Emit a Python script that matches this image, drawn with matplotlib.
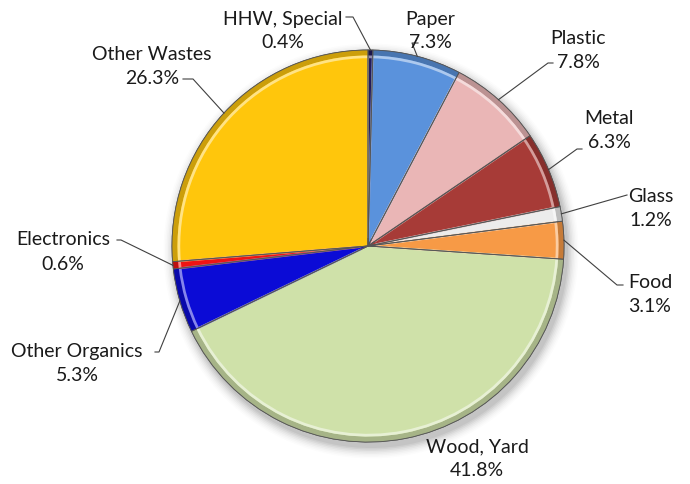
import matplotlib
matplotlib.use("Agg")
import matplotlib.pyplot as plt
import matplotlib.colors as mcolors
from matplotlib.patches import Wedge, Circle
import numpy as np

plt.rcParams['font.family'] = ['Lato', 'DejaVu Sans']

# Waste categories (clockwise from 12 o'clock) and their shares in percent
categories = ["HHW, Special", "Paper", "Plastic", "Metal", "Glass", "Food",
              "Wood, Yard", "Other Organics", "Electronics", "Other Wastes"]
shares = [0.4, 7.3, 7.8, 6.3, 1.2, 3.1, 41.8, 5.3, 0.6, 26.3]
colors = ["#221a5c", "#5a92dc", "#eab6b6", "#a73b37", "#ececec", "#f79a46",
          "#cfe1a9", "#0b0bd6", "#ee1414", "#ffc60c"]
explode_px = [0, 0, 0, 0, 0, 0, 6, 0, 0, 0]

# Label anchor positions in pixel space (x, y from top), and leader start points
label_pos = [(283, 31), (430, 31), (578, 51), (609, 131), (651, 208),
             (650, 295), (477, 459), (77, 364), (63, 252), (152, 66)]
leader_start = [(346, 18), (418, 44), (553, 64), (582, 150), (627, 196),
                (623, 286), None, (155, 353), (117, 241), (183, 80)]
leader_elbow = [(353, 18), (412, 44), (548, 64), (577, 150), (627, 196),
                (617, 286), None, (159, 353), (121, 241), (193, 80)]

W, H = 690, 485
fig = plt.figure(figsize=(W / 100, H / 100), dpi=100)
ax = fig.add_axes([0, 0, 1, 1])
ax.set_xlim(0, W)
ax.set_ylim(0, H)
ax.set_aspect('equal')
ax.axis('off')

cx, cy_px, R = 368, 247, 196
cy = H - cy_px

# soft drop shadow under the pie
for i, a in enumerate(np.linspace(0.05, 0.01, 8)):
    ax.add_patch(Circle((cx + 3, cy - 5), R + 1 + i * 1.5, color='black',
                        alpha=a, lw=0, zorder=0.5))

explode = [e / R for e in explode_px]
wedges, _ = ax.pie(shares, colors=colors, startangle=90, counterclock=False,
                   radius=R, center=(cx, cy), explode=explode, normalize=True,
                   wedgeprops=dict(edgecolor='#5a5a5a', linewidth=0.6))
ax.set_xlim(0, W)
ax.set_ylim(0, H)


def shade(c, f):
    r, g, b = mcolors.to_rgb(c)
    if f < 1:
        return (r * f, g * f, b * f)
    f = f - 1
    return (r + (1 - r) * f, g + (1 - g) * f, b + (1 - b) * f)


# bevel: soft darker outer rim and light inner highlight band
for w, col in zip(wedges, colors):
    c = w.center
    t1, t2 = w.theta1, w.theta2
    ax.add_patch(Wedge(c, R, t1, t2, width=R * 0.028, color=shade(col, 0.8),
                       lw=0, zorder=2))
    ax.add_patch(Wedge(c, R * 0.972, t1, t2, width=R * 0.014,
                       color=shade(col, 1.5), lw=0, zorder=2))
    # highlight along the radial edges
    for t in (t1, t2):
        th = np.deg2rad(t)
        r0, r1 = R * 0.04, R * 0.96
        ax.plot([c[0] + r0 * np.cos(th), c[0] + r1 * np.cos(th)],
                [c[1] + r0 * np.sin(th), c[1] + r1 * np.sin(th)],
                color=shade(col, 1.4), lw=1.4, alpha=0.6, zorder=2,
                solid_capstyle='butt')
    ax.add_patch(Wedge(c, R, t1, t2, fill=False, edgecolor='#555555',
                       lw=0.6, zorder=3))

# labels with leader lines
for i, (name, val) in enumerate(zip(categories, shares)):
    lx, ly = label_pos[i]
    ax.text(lx, H - ly, f"{name}\n{val:.1f}%", ha='center', va='center',
            fontsize=14, color='#1a1a1a', linespacing=1.5, zorder=5)
    if leader_start[i] is None:
        continue
    w = wedges[i]
    mid = np.deg2rad((w.theta1 + w.theta2) / 2)
    ex = w.center[0] + R * np.cos(mid)
    ey = w.center[1] + R * np.sin(mid)
    sx, sy = leader_start[i]
    bx, by = leader_elbow[i]
    ax.plot([sx, bx, ex], [H - sy, H - by, ey], color='#404040', lw=0.8,
            zorder=4)

fig.savefig("out.png", dpi=100, facecolor='white')
